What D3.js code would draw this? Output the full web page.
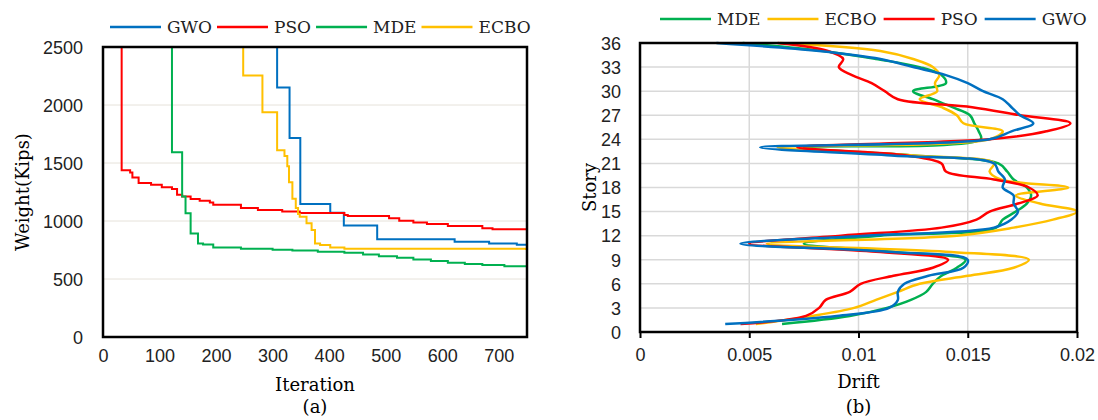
<!DOCTYPE html>
<html>
<head>
<meta charset="utf-8">
<script src="https://cdn.jsdelivr.net/npm/d3@7"></script>
<style>
  body { margin: 0; background: #fff; }
  svg { display: block; font-family: "DejaVu Serif", serif; }
  .tick text { font-size: 18px; fill: #222; }
</style>
</head>
<body>
<svg id="chart" width="1098" height="420"></svg>
<script>
// ---- (a) convergence history: [iteration, weight] pairs ----
var convGWO = [[0, 4000], [308, 2151], [330, 1716], [349, 1146], [402, 1072], [426, 962],
  [485, 842], [622, 821], [683, 807], [732, 795], [750, 790]];
var convPSO = [[0, 4000], [33, 1437], [48, 1419], [52, 1376], [63, 1327], [85, 1313], [104, 1292],
  [122, 1275], [131, 1226], [140, 1212], [155, 1189], [171, 1174], [189, 1160], [195, 1140],
  [244, 1112], [274, 1095], [317, 1081], [348, 1070], [427, 1052], [433, 1043], [506, 1023],
  [524, 1003], [549, 988], [573, 974], [610, 957], [671, 937], [689, 928], [750, 928]];
var convMDE = [[0, 4000], [122, 1592], [140, 1212], [146, 1066], [155, 893], [168, 807],
  [177, 798], [195, 772], [244, 760], [300, 752], [335, 745], [380, 735], [427, 726],
  [460, 712], [488, 697], [520, 683], [549, 669], [580, 655], [610, 640], [640, 630],
  [671, 620], [710, 610], [750, 605]];
var convECBO = [[0, 4000], [248, 2255], [282, 1938], [308, 1610], [321, 1560], [326, 1471],
  [329, 1333], [335, 1192], [341, 1111], [345, 1060], [348, 1037], [360, 980], [369, 922],
  [375, 807], [384, 793], [402, 772], [427, 761], [742, 761], [748, 749]];

var iterTicks = [0, 100, 200, 300, 400, 500, 600, 700];
var weightTicks = [0, 500, 1000, 1500, 2000, 2500];

// ---- (b) story drift, stories 1..36 ----
var stories = d3.range(1, 37);
var driftMDE = [0.0065, 0.0096, 0.0113, 0.0124, 0.0131, 0.0134, 0.0138, 0.0145, 0.0149, 0.0115,
  0.0075, 0.0110, 0.0163, 0.0166, 0.0172, 0.0177, 0.0179, 0.0177, 0.0171, 0.0168, 0.0164, 0.0125,
  0.0075, 0.0156, 0.0155, 0.0153, 0.0151, 0.0143, 0.0134, 0.0125, 0.0140, 0.0138, 0.0128, 0.0108,
  0.0084, 0.0047];
var driftECBO = [0.0053, 0.0079, 0.0098, 0.0108, 0.0118, 0.0128, 0.0150, 0.0171, 0.0178, 0.0140,
  0.0058, 0.0145, 0.0171, 0.0189, 0.0200, 0.0183, 0.0172, 0.0196, 0.0165, 0.0160, 0.0162, 0.0125,
  0.0063, 0.0160, 0.0166, 0.0148, 0.0145, 0.0138, 0.0128, 0.0136, 0.0135, 0.0137, 0.0134, 0.0125,
  0.0110, 0.0064];
var driftPSO = [0.0046, 0.0076, 0.0082, 0.0085, 0.0096, 0.0101, 0.0116, 0.0134, 0.0141, 0.0108,
  0.0050, 0.0092, 0.0138, 0.0154, 0.0160, 0.0173, 0.0182, 0.0178, 0.0162, 0.0140, 0.0138, 0.0122,
  0.0072, 0.0160, 0.0186, 0.0197, 0.0174, 0.0152, 0.0118, 0.0112, 0.0106, 0.0097, 0.0091, 0.0093,
  0.0086, 0.0063];
var driftGWO = [0.0039, 0.0090, 0.0114, 0.0118, 0.0118, 0.0121, 0.0132, 0.0148, 0.0150, 0.0113,
  0.0046, 0.0103, 0.0162, 0.0170, 0.0173, 0.0171, 0.0171, 0.0166, 0.0167, 0.0164, 0.0162, 0.0115,
  0.0055, 0.0160, 0.0170, 0.0180, 0.0174, 0.0170, 0.0166, 0.0157, 0.0150, 0.0140, 0.0125, 0.0110,
  0.0082, 0.0035];

var driftTicks = [0, 0.005, 0.01, 0.015, 0.02];
var storyTicks = d3.range(0, 37, 3);

var colors = { GWO: "#0070C0", PSO: "#FF0000", MDE: "#00B050", ECBO: "#FFC000" };

var svg = d3.select("#chart");

function drawLegend(names, x0, y, gap) {
  var g = svg.append("g");
  var x = x0;
  names.forEach(function(n) {
    g.append("line").attr("x1", x).attr("x2", x + 51).attr("y1", y).attr("y2", y)
      .attr("stroke", colors[n]).attr("stroke-width", 2.5);
    var t = g.append("text").attr("x", x + 57).attr("y", y).attr("dy", "0.35em")
      .style("font-size", "17px").attr("fill", "#222").text(n);
    x = x + 57 + t.node().getComputedTextLength() + gap;
  });
}

// ================= chart (a) =================
var a = { left: 103, right: 527, top: 47, bottom: 337 };
var xA = d3.scaleLinear().domain([0, 750]).range([a.left, a.right]);
var yA = d3.scaleLinear().domain([0, 2500]).range([a.bottom, a.top]);

svg.append("g").selectAll("line").data(weightTicks.slice(1, -1)).enter().append("line")
  .attr("x1", a.left).attr("x2", a.right)
  .attr("y1", function(d) { return yA(d); }).attr("y2", function(d) { return yA(d); })
  .attr("stroke", "#e6e2da").attr("stroke-width", 1);

svg.append("clipPath").attr("id", "clipA").append("rect")
  .attr("x", a.left).attr("y", a.top).attr("width", a.right - a.left).attr("height", a.bottom - a.top);

var stepLine = d3.line().curve(d3.curveStepAfter)
  .x(function(d) { return xA(d[0]); })
  .y(function(d) { return yA(d[1]); });

[["GWO", convGWO], ["PSO", convPSO], ["MDE", convMDE], ["ECBO", convECBO]].forEach(function(s) {
  svg.append("path").datum(s[1]).attr("clip-path", "url(#clipA)")
    .attr("fill", "none").attr("stroke", colors[s[0]]).attr("stroke-width", 2)
    .attr("d", stepLine);
});

svg.append("rect").attr("x", a.left).attr("y", a.top)
  .attr("width", a.right - a.left).attr("height", a.bottom - a.top)
  .attr("fill", "none").attr("stroke", "#000").attr("stroke-width", 2.5);

var axA_x = svg.append("g").attr("transform", "translate(0," + a.bottom + ")")
  .call(d3.axisBottom(xA).tickValues(iterTicks).tickSize(0).tickPadding(12).tickFormat(d3.format("d")));
axA_x.select(".domain").remove();
var axA_y = svg.append("g").attr("transform", "translate(" + a.left + ",0)")
  .call(d3.axisLeft(yA).tickValues(weightTicks).tickSize(0).tickPadding(20).tickFormat(d3.format("d")));
axA_y.select(".domain").remove();
axA_y.selectAll("text").attr("dy", "0.35em");

svg.append("text").attr("x", (a.left + a.right) / 2).attr("y", 385).attr("dy", "0.35em")
  .attr("text-anchor", "middle").style("font-size", "18px").text("Iteration");
svg.append("text").attr("x", (a.left + a.right) / 2).attr("y", 407).attr("dy", "0.35em")
  .attr("text-anchor", "middle").style("font-size", "18px").text("(a)");
svg.append("text").attr("transform", "translate(23," + (a.top + a.bottom) / 2 + ") rotate(-90)")
  .attr("dy", "0.35em").attr("text-anchor", "middle").style("font-size", "18px").text("Weight(Kips)");

drawLegend(["GWO", "PSO", "MDE", "ECBO"], 110, 27, 5);

// ================= chart (b) =================
var b = { left: 640, right: 1077, top: 43, bottom: 332 };
var xB = d3.scaleLinear().domain([0, 0.02]).range([b.left, b.right]);
var yB = d3.scaleLinear().domain([0, 36]).range([b.bottom, b.top]);

svg.append("g").selectAll("line").data(storyTicks.slice(1, -1)).enter().append("line")
  .attr("x1", b.left).attr("x2", b.right)
  .attr("y1", function(d) { return yB(d); }).attr("y2", function(d) { return yB(d); })
  .attr("stroke", "#d9d9d9").attr("stroke-width", 1.5);
svg.append("g").selectAll("line").data(driftTicks.slice(1, -1)).enter().append("line")
  .attr("y1", b.top).attr("y2", b.bottom)
  .attr("x1", function(d) { return xB(d); }).attr("x2", function(d) { return xB(d); })
  .attr("stroke", "#d9d9d9").attr("stroke-width", 1.5);

var smooth = d3.line().curve(d3.curveCatmullRom.alpha(0.5))
  .x(function(d) { return xB(d[0]); })
  .y(function(d) { return yB(d[1]); });

[["MDE", driftMDE], ["ECBO", driftECBO], ["PSO", driftPSO], ["GWO", driftGWO]].forEach(function(s) {
  var pts = s[1].map(function(v, i) { return [v, stories[i]]; });
  svg.append("path").datum(pts)
    .attr("fill", "none").attr("stroke", colors[s[0]]).attr("stroke-width", 2.5)
    .attr("d", smooth);
});

svg.append("rect").attr("x", b.left).attr("y", b.top)
  .attr("width", b.right - b.left).attr("height", b.bottom - b.top)
  .attr("fill", "none").attr("stroke", "#000").attr("stroke-width", 2.5);

var axB_x = svg.append("g").attr("transform", "translate(0," + b.bottom + ")")
  .call(d3.axisBottom(xB).tickValues(driftTicks).tickSize(6).tickPadding(10)
    .tickFormat(function(d) { return String(+d.toFixed(3)); }));
axB_x.select(".domain").remove();
axB_x.selectAll(".tick line").attr("stroke", "#000").attr("stroke-width", 2);
var axB_y = svg.append("g").attr("transform", "translate(" + b.left + ",0)")
  .call(d3.axisLeft(yB).tickValues(storyTicks).tickSize(0).tickPadding(19));
axB_y.select(".domain").remove();
axB_y.selectAll("text").attr("dy", "0.35em");

svg.append("text").attr("x", (b.left + b.right) / 2).attr("y", 382).attr("dy", "0.35em")
  .attr("text-anchor", "middle").style("font-size", "18px").text("Drift");
svg.append("text").attr("x", (b.left + b.right) / 2).attr("y", 407).attr("dy", "0.35em")
  .attr("text-anchor", "middle").style("font-size", "18px").text("(b)");
svg.append("text").attr("transform", "translate(590," + (b.top + b.bottom) / 2 + ") rotate(-90)")
  .attr("dy", "0.35em").attr("text-anchor", "middle").style("font-size", "18px").text("Story");

drawLegend(["MDE", "ECBO", "PSO", "GWO"], 660, 19, 7);
</script>
</body>
</html>
